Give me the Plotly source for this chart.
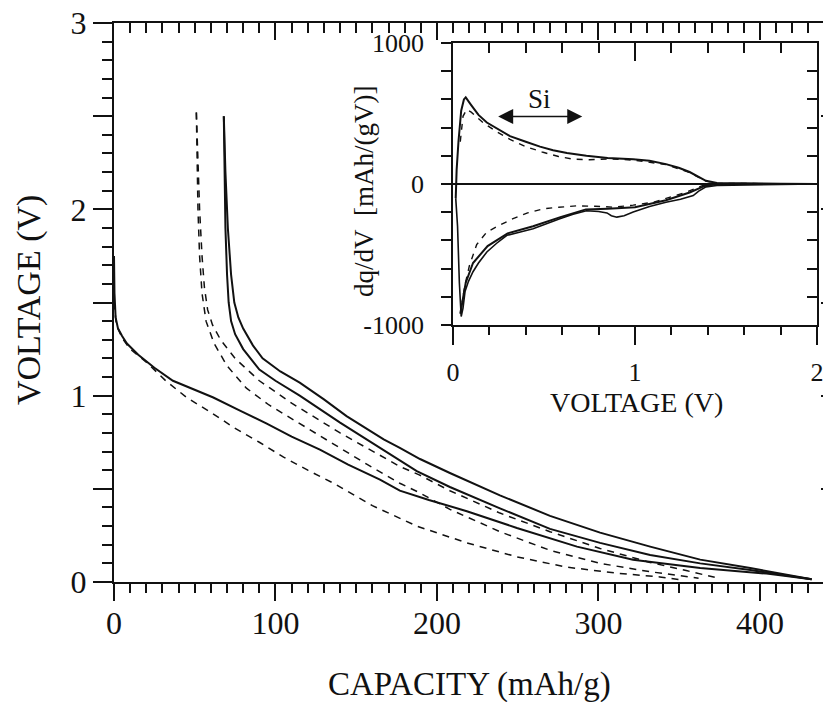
import plotly.graph_objects as go

# ---------------- main panel: voltage vs capacity ----------------
s1_cap = [0, 0.3, 1, 2.5, 5, 8, 15, 25, 36.5, 50, 61.5, 78, 94.6, 110, 127.5, 145, 164.7, 177, 195, 218.5, 249.5, 286.7, 321.4, 363, 404, 432]
s1_v = [1.75, 1.55, 1.42, 1.36, 1.32, 1.28, 1.22, 1.15, 1.08, 1.03, 0.99, 0.92, 0.85, 0.78, 0.71, 0.63, 0.55, 0.49, 0.44, 0.38, 0.29, 0.19, 0.12, 0.075, 0.045, 0.015]

s2_cap = [68, 69, 70.5, 72.5, 74.5, 77, 80, 86, 92, 103, 115, 130, 144, 167, 177, 189.5, 208, 239, 270, 301, 332, 363, 394, 414, 432]
s2_v = [2.5, 2.2, 1.9, 1.65, 1.5, 1.42, 1.36, 1.27, 1.2, 1.13, 1.07, 0.98, 0.89, 0.765, 0.72, 0.66, 0.585, 0.465, 0.355, 0.265, 0.19, 0.12, 0.075, 0.045, 0.015]

s3_cap = [68, 68.5, 69, 70, 71, 72.5, 75, 80, 90, 100, 115, 140, 167, 177, 187.5, 208, 239, 270, 301, 332, 363, 394, 414, 432]
s3_v = [2.5, 2.2, 1.9, 1.65, 1.5, 1.4, 1.33, 1.25, 1.14, 1.08, 1.0, 0.855, 0.705, 0.65, 0.595, 0.51, 0.395, 0.285, 0.21, 0.145, 0.10, 0.064, 0.04, 0.015]

d1_cap = [0, 1.5, 5, 10, 20, 32, 45, 60, 74, 90, 105, 120, 136, 160, 187.5, 218.5, 249.5, 280, 311, 338, 352]
d1_v = [1.5, 1.38, 1.31, 1.25, 1.18, 1.08, 0.99, 0.91, 0.83, 0.75, 0.67, 0.6, 0.53, 0.41, 0.3, 0.21, 0.135, 0.08, 0.048, 0.027, 0.01]

d2_cap = [51, 52, 53, 54.5, 56, 58, 61, 66, 75, 90, 110, 140, 177, 189, 208, 239, 270, 301, 332, 355, 372]
d2_v = [2.52, 2.25, 2.0, 1.75, 1.58, 1.46, 1.38, 1.3, 1.2, 1.08, 0.96, 0.8, 0.62, 0.575, 0.49, 0.37, 0.27, 0.18, 0.105, 0.06, 0.025]

d3_cap = [51, 51.5, 52, 53, 54.5, 57, 62, 70, 82, 96, 111, 136, 157, 177, 189, 208, 239, 270, 301, 332, 350, 362]
d3_v = [2.52, 2.25, 2.0, 1.75, 1.55, 1.4, 1.28, 1.16, 1.04, 0.95, 0.87, 0.74, 0.63, 0.53, 0.48, 0.39, 0.27, 0.17, 0.10, 0.055, 0.035, 0.02]

main_xticks = [0, 100, 200, 300, 400]
main_yticks = [0, 0.5, 1, 1.5, 2, 2.5, 3]
main_ylabels = ['0', '', '1', '', '2', '', '3']

# ---------------- inset: dq/dV vs voltage ----------------
up_solid_v = [0.015, 0.02, 0.03, 0.045, 0.06, 0.07, 0.1, 0.14, 0.186, 0.25, 0.313, 0.4, 0.478, 0.55, 0.626, 0.733, 0.85, 0.99, 1.08, 1.17, 1.24, 1.30, 1.35, 1.39, 1.45, 1.6, 1.8, 2.0]
up_solid_q = [-100, 100, 300, 520, 600, 615, 560, 490, 436, 385, 340, 300, 265, 240, 220, 200, 185, 176, 165, 141, 115, 85, 50, 23, 8, 4, 2, 0]

lo_solid_v = [2.0, 1.8, 1.6, 1.45, 1.39, 1.35, 1.32, 1.25, 1.17, 1.08, 0.99, 0.94, 0.90, 0.87, 0.846, 0.8, 0.733, 0.66, 0.587, 0.5, 0.44, 0.37, 0.296, 0.24, 0.186, 0.14, 0.11, 0.085, 0.066, 0.055, 0.045, 0.035, 0.025, 0.015]
lo_solid_q = [0, -2, -5, -10, -20, -50, -82, -108, -129, -160, -199, -225, -235, -225, -205, -195, -190, -215, -246, -285, -317, -340, -364, -420, -482, -560, -622, -690, -763, -880, -940, -700, -300, -100]

lo_solid2_v = [1.45, 1.38, 1.3, 1.17, 1.0, 0.93, 0.85, 0.73, 0.59, 0.44, 0.3, 0.19, 0.11, 0.07, 0.05, 0.04]
lo_solid2_q = [0, -15, -60, -115, -165, -172, -175, -180, -235, -300, -350, -440, -560, -700, -850, -920]

up_dash_v = [0.04, 0.055, 0.075, 0.1, 0.165, 0.24, 0.313, 0.4, 0.495, 0.58, 0.66, 0.75, 0.85, 0.99, 1.17, 1.3, 1.39, 1.45, 2.0]
up_dash_q = [300, 480, 528, 510, 436, 370, 317, 265, 225, 195, 176, 172, 178, 170, 138, 82, 20, 5, 0]

lo_dash_v = [1.45, 1.37, 1.28, 1.1, 0.99, 0.88, 0.78, 0.68, 0.58, 0.495, 0.41, 0.33, 0.26, 0.186, 0.13, 0.09, 0.065, 0.05]
lo_dash_q = [0, -12, -59, -129, -150, -164, -158, -155, -165, -176, -205, -246, -290, -340, -430, -580, -720, -840]

inset_xticks = [0, 1, 2]
inset_yticks = [-1000, 0, 1000]
inset_ylabels = ['-1000', '0', '1000']

FONT = 'Liberation Serif, Times New Roman, serif'
INK = '#111111'

fig = go.Figure()
solid = dict(color=INK, width=2)
dashed = dict(color=INK, width=1.5, dash='7px,6px')

for cx, cy, ln in [(s1_cap, s1_v, solid), (s2_cap, s2_v, solid), (s3_cap, s3_v, solid),
                   (d1_cap, d1_v, dashed), (d2_cap, d2_v, dashed), (d3_cap, d3_v, dashed)]:
    fig.add_trace(go.Scatter(x=cx, y=cy, mode='lines', line=ln, xaxis='x', yaxis='y',
                             showlegend=False, hoverinfo='skip'))

fig.add_trace(go.Scatter(x=[None], y=[None], xaxis='x3', yaxis='y3', showlegend=False))

isolid = dict(color=INK, width=2)
isolid2 = dict(color=INK, width=1.6)
idash = dict(color=INK, width=1.4, dash='6px,6px')
for cx, cy, ln in [(up_solid_v, up_solid_q, isolid), (lo_solid_v, lo_solid_q, isolid2),
                   (lo_solid2_v, lo_solid2_q, isolid), (up_dash_v, up_dash_q, idash),
                   (lo_dash_v, lo_dash_q, idash)]:
    fig.add_trace(go.Scatter(x=cx, y=cy, mode='lines', line=ln, xaxis='x2', yaxis='y2',
                             showlegend=False, hoverinfo='skip'))

fig.add_trace(go.Scatter(x=[None], y=[None], xaxis='x4', yaxis='y4', showlegend=False))

common = dict(showgrid=False, zeroline=False, linecolor=INK, tickcolor=INK, tickwidth=1.5,
              automargin=False, ticklabeloverflow='allow',
              tickfont=dict(family=FONT, size=32, color=INK))
small_font = dict(family=FONT, size=26, color=INK)

inset_x0, inset_x1 = 0.4728, 0.9805
inset_y0, inset_y1 = 0.4597, 0.9642

# the page body adds an 8px offset, so the figure is 8px smaller than the window
fig.update_layout(
    width=823, height=694,
    margin=dict(l=106, r=0, t=15, b=120, autoexpand=False),
    paper_bgcolor='white', plot_bgcolor='white',
    font=dict(family=FONT, color=INK),
    xaxis=dict(domain=[0, 1], range=[0, 444], anchor='y', showline=True, linewidth=2,
               ticks='outside', tickvals=main_xticks, ticklen=17, ticklabelstandoff=-5,
               minor=dict(tickmode='linear', tick0=0, dtick=10, ticks='outside', ticklen=9,
                          tickwidth=1.5, tickcolor=INK, showgrid=False),
               **common),
    yaxis=dict(domain=[0, 1], range=[0, 3], anchor='x', showline=True, linewidth=2,
               ticks='outside', tickvals=main_yticks, ticktext=main_ylabels, ticklen=19,
               minor=dict(tickmode='linear', tick0=0, dtick=0.1, ticks='outside', ticklen=10,
                          tickwidth=1.5, tickcolor=INK, showgrid=False),
               **common),
    xaxis3=dict(overlaying='x', anchor='y3', side='top', range=[0, 444], showline=True,
                linewidth=2, ticks='inside', tickvals=main_xticks, ticklen=17,
                showticklabels=False,
                minor=dict(tickmode='linear', tick0=0, dtick=10, ticks='inside', ticklen=10,
                           tickwidth=1.5, tickcolor=INK, showgrid=False),
                **common),
    yaxis3=dict(overlaying='y', anchor='x3', side='right', range=[0, 3], showline=False,
                ticks='inside', tickvals=main_yticks, ticklen=10, showticklabels=False,
                minor=dict(tickmode='linear', tick0=0, dtick=0.1, ticks='inside', ticklen=3,
                           tickwidth=1.2, tickcolor=INK, showgrid=False),
                **common),
    xaxis2=dict(domain=[inset_x0, inset_x1], anchor='y2', range=[0, 2], showline=True,
                linewidth=1.8, ticks='outside', tickvals=inset_xticks, ticklen=18,
                ticklabelstandoff=5,
                minor=dict(tickmode='linear', tick0=0, dtick=0.2, ticks='outside', ticklen=8,
                           tickwidth=1.5, tickcolor=INK, showgrid=False),
                **{**common, 'tickfont': small_font}),
    yaxis2=dict(domain=[inset_y0, inset_y1], anchor='x2', range=[-1000, 1000], showline=True,
                linewidth=1.8, ticks='outside', tickvals=inset_yticks, ticktext=inset_ylabels,
                ticklen=10, ticklabelstandoff=12,
                minor=dict(tickmode='linear', tick0=0, dtick=200, ticks='outside', ticklen=10,
                           tickwidth=1.5, tickcolor=INK, showgrid=False),
                **{**common, 'zeroline': True, 'zerolinecolor': INK, 'zerolinewidth': 1.5,
                   'tickfont': small_font}),
    xaxis4=dict(overlaying='x2', anchor='y4', side='top', range=[0, 2], showline=True,
                linewidth=1.8, ticks='inside', tickvals=inset_xticks, ticklen=18,
                showticklabels=False,
                minor=dict(tickmode='linear', tick0=0, dtick=0.2, ticks='inside', ticklen=10,
                           tickwidth=1.5, tickcolor=INK, showgrid=False),
                **common),
    yaxis4=dict(overlaying='y2', anchor='x4', side='right', range=[-1000, 1000], showline=True,
                linewidth=1.8, ticks='inside', tickvals=inset_yticks, ticklen=10,
                showticklabels=False,
                minor=dict(tickmode='linear', tick0=0, dtick=200, ticks='inside', ticklen=10,
                           tickwidth=1.5, tickcolor=INK, showgrid=False),
                **common),
)

fig.add_annotation(text='CAPACITY (mAh/g)', xref='paper', yref='paper', x=0.4965, y=-0.184,
                   showarrow=False, xanchor='center', yanchor='middle',
                   font=dict(family=FONT, size=33, color=INK))
fig.add_annotation(text='VOLTAGE (V)', xref='paper', yref='paper', x=-0.1185, y=0.5045,
                   textangle=-90, showarrow=False, xanchor='center', yanchor='middle',
                   font=dict(family=FONT, size=34, color=INK))
fig.add_annotation(text='VOLTAGE (V)', xref='paper', yref='paper', x=0.7294, y=0.322,
                   showarrow=False, xanchor='center', yanchor='middle',
                   font=dict(family=FONT, size=28, color=INK))
fig.add_annotation(text='dq/dV\u00a0\u00a0[mAh/(gV)]', xref='paper', yref='paper', x=0.3487,
                   y=0.6977, textangle=-90, showarrow=False, xanchor='center', yanchor='middle',
                   font=dict(family=FONT, size=27, color=INK))
fig.add_annotation(text='Si', xref='x2', yref='y2', x=0.473, y=606, showarrow=False,
                   xanchor='center', yanchor='middle', font=dict(family=FONT, size=27, color=INK))
fig.add_annotation(text='', xref='x2', yref='y2', x=0.71, y=479, axref='x2', ayref='y2',
                   ax=0.24, ay=479, showarrow=True, arrowhead=2, startarrowhead=2,
                   arrowside='end+start', arrowsize=2, startarrowsize=2, arrowwidth=1.5,
                   arrowcolor=INK, standoff=0, startstandoff=0)

fig.write_html('out.html')
